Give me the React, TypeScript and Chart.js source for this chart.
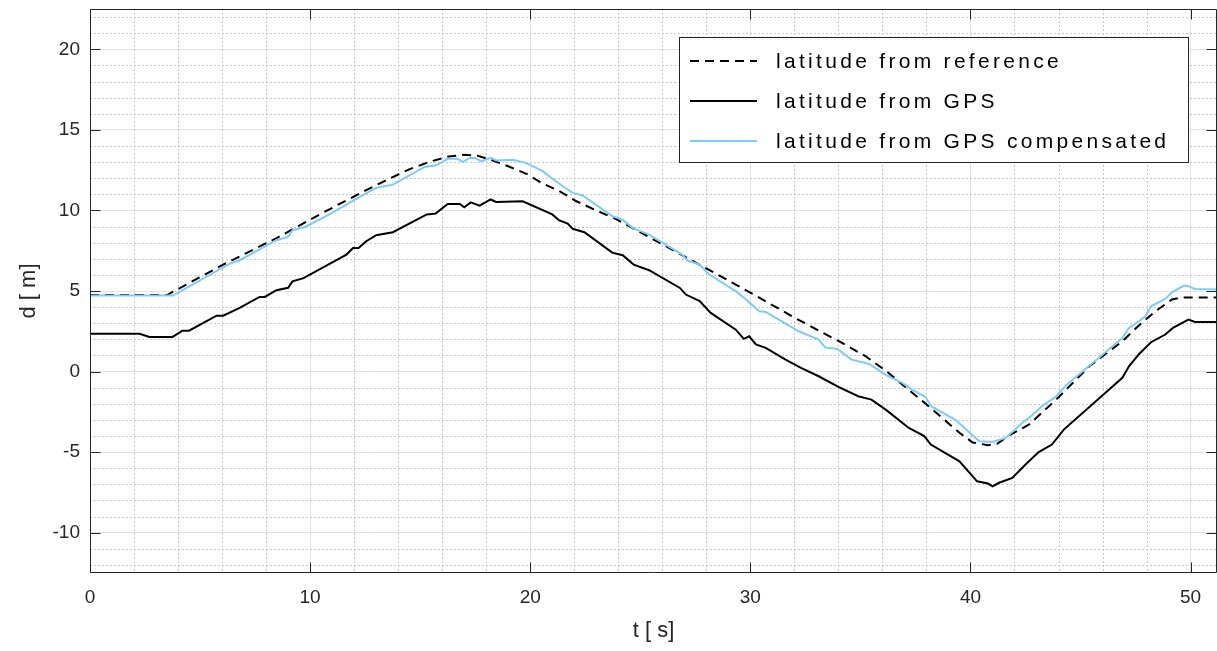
import React, { useEffect, useRef } from 'react';
import { Chart, registerables } from 'chart.js';

Chart.register(...registerables);

// ---- data ----
const refT = [0, 3.5, 6, 8.5, 10.5, 12.5, 13.5, 14.5, 15.5, 16.3, 17, 17.6, 18.2, 19, 19.9, 20.5, 21.36, 22.1, 23, 23.85, 24.65, 26, 28, 30, 32, 34, 35.24, 36.2, 36.9, 38.1, 39.5, 40.1, 40.8, 41.2, 41.7, 42.65, 44, 45.4, 46.9, 47.6, 48.4, 49.15, 49.6, 51.2];
const refD = [4.75, 4.75, 6.6, 8.3, 9.8, 11.23, 11.9, 12.55, 13.05, 13.35, 13.45, 13.4, 13.15, 12.74, 12.23, 11.71, 11.17, 10.57, 10.0, 9.5, 8.9, 7.9, 6.4, 4.9, 3.35, 1.9, 0.95, 0.0, -0.8, -2.15, -3.8, -4.4, -4.57, -4.5, -4.0, -3.3, -1.6, 0.33, 1.88, 2.8, 3.74, 4.47, 4.6, 4.6];

const gpsT = [0, 2.25, 2.7, 3.75, 4.2, 4.5, 5.75, 6.05, 6.8, 7.7, 7.94, 8.47, 9.0, 9.2, 9.7, 11.65, 11.95, 12.2, 12.55, 13.0, 13.76, 15.3, 15.7, 16.25, 16.8, 17.0, 17.3, 17.7, 18.2, 18.45, 19.66, 21.0, 21.3, 21.7, 21.93, 22.46, 23.74, 24.2, 24.7, 25.4, 26.8, 27.07, 27.7, 28.2, 29.34, 29.7, 29.95, 30.25, 30.7, 31.6, 32.3, 33.1, 34.0, 34.9, 35.5, 36.15, 37.2, 37.9, 38.2, 39.5, 40.3, 40.8, 41.0, 41.3, 41.9, 42.5, 43.1, 43.7, 44.24, 46.9, 47.2, 47.64, 48.2, 48.85, 49.2, 49.9, 50.2, 51.2];
const gpsD = [2.35, 2.35, 2.15, 2.15, 2.54, 2.54, 3.47, 3.47, 3.95, 4.63, 4.63, 5.05, 5.2, 5.6, 5.8, 7.26, 7.67, 7.67, 8.09, 8.46, 8.65, 9.75, 9.8, 10.4, 10.4, 10.2, 10.5, 10.3, 10.68, 10.53, 10.57, 9.75, 9.4, 9.19, 8.86, 8.65, 7.37, 7.22, 6.64, 6.29, 5.19, 4.78, 4.37, 3.64, 2.6, 2.03, 2.19, 1.68, 1.47, 0.74, 0.23, -0.29, -0.95, -1.53, -1.74, -2.36, -3.5, -4.0, -4.53, -5.57, -6.81, -6.95, -7.12, -6.9, -6.6, -5.77, -5.0, -4.53, -3.6, -0.39, 0.33, 1.06, 1.82, 2.3, 2.71, 3.23, 3.08, 3.08];

const compT = [0, 3.77, 6.35, 6.8, 8.47, 9.0, 9.2, 9.75, 11, 12.25, 13.0, 13.76, 15.2, 15.73, 16.26, 16.7, 16.94, 17.24, 17.47, 17.77, 18.22, 18.45, 19.2, 19.8, 20.57, 21.17, 21.48, 21.93, 22.38, 23.74, 24.2, 24.65, 25.4, 26.9, 27.15, 27.7, 28.13, 29.34, 29.8, 30.4, 30.7, 32.2, 33.1, 33.4, 33.95, 34.6, 35.4, 36.15, 36.9, 37.35, 37.96, 38.2, 39.3, 40.4, 41.0, 41.6, 42.35, 42.65, 43.25, 43.9, 44.3, 46.9, 47.2, 47.64, 47.95, 48.2, 48.85, 49.15, 49.7, 49.9, 50.2, 51.2];
const compD = [4.72, 4.72, 6.7, 6.91, 8.15, 8.36, 8.77, 8.96, 9.85, 10.84, 11.4, 11.6, 12.7, 12.8, 13.2, 13.2, 13.0, 13.26, 13.26, 13.06, 13.26, 13.1, 13.15, 12.95, 12.44, 11.8, 11.5, 11.09, 10.93, 9.64, 9.43, 8.92, 8.5, 7.26, 6.89, 6.64, 6.02, 4.99, 4.47, 3.74, 3.7, 2.5, 1.99, 1.5, 1.4, 0.74, 0.47, -0.2, -0.7, -1.12, -1.57, -2.15, -2.98, -4.33, -4.37, -4.12, -3.19, -2.88, -2.15, -1.53, -0.91, 2.09, 2.71, 3.12, 3.43, 4.05, 4.51, 4.92, 5.34, 5.3, 5.13, 5.1];

const xTicks = [0, 10, 20, 30, 40, 50];
const yTicks = [-10, -5, 0, 5, 10, 15, 20];
const X_MIN = 0;
const X_MAX = 51.2;
const Y_MIN = -12.5;
const Y_MAX = 22.5;
const X_MINOR_STEP = 2;
const Y_MINOR_STEP = 1;

const seriesNames = ['latitude from reference', 'latitude from GPS', 'latitude from GPS compensated'];
const seriesColors = ['#000000', '#000000', '#7dcbf8'];
const refDash = [9, 6];

const FONT = "'Liberation Sans', Arial, Helvetica, sans-serif";
const AXIS_COLOR = '#262626';

const matlabPlugin = {
  id: 'matlabStyle',
  beforeDatasetsDraw(chart: any) {
    const { ctx, chartArea: a, scales } = chart;
    const xs = scales.x;
    const ys = scales.y;
    ctx.save();
    ctx.strokeStyle = '#c8c8c8';
    ctx.lineWidth = 1;
    ctx.setLineDash([2, 2]);
    for (let v = X_MIN + X_MINOR_STEP; v < X_MAX; v += X_MINOR_STEP) {
      if (Math.abs(v % 10) < 1e-9) continue;
      const px = Math.round(xs.getPixelForValue(v)) + 0.5;
      ctx.beginPath();
      ctx.moveTo(px, a.top);
      ctx.lineTo(px, a.bottom);
      ctx.stroke();
    }
    for (let v = Math.ceil(Y_MIN); v < Y_MAX; v += Y_MINOR_STEP) {
      if (Math.abs(v % 5) < 1e-9) continue;
      const py = Math.round(ys.getPixelForValue(v)) + 0.5;
      ctx.beginPath();
      ctx.moveTo(a.left, py);
      ctx.lineTo(a.right, py);
      ctx.stroke();
    }
    ctx.restore();
  },
  afterDatasetsDraw(chart: any) {
    const { ctx, chartArea: a, scales } = chart;
    const xs = scales.x;
    const ys = scales.y;
    const L = Math.round(a.left) + 0.5;
    const R = Math.round(a.right) - 0.5;
    const T = Math.round(a.top) + 0.5;
    const B = Math.round(a.bottom) - 0.5;
    ctx.save();
    ctx.setLineDash([]);
    ctx.strokeStyle = AXIS_COLOR;
    ctx.lineWidth = 1;
    ctx.beginPath();
    ctx.rect(L, T, R - L, B - T);
    ctx.stroke();
    const tl = 10;
    ctx.beginPath();
    xTicks.forEach((v) => {
      const px = Math.round(xs.getPixelForValue(v)) + 0.5;
      ctx.moveTo(px, B);
      ctx.lineTo(px, B - tl);
      ctx.moveTo(px, T);
      ctx.lineTo(px, T + tl);
    });
    yTicks.forEach((v) => {
      const py = Math.round(ys.getPixelForValue(v)) + 0.5;
      ctx.moveTo(L, py);
      ctx.lineTo(L + tl, py);
      ctx.moveTo(R, py);
      ctx.lineTo(R - tl, py);
    });
    ctx.stroke();

    // legend
    const bx = 679.5, by = 37.5, bw = 509, bh = 125;
    ctx.fillStyle = '#ffffff';
    ctx.fillRect(bx, by, bw, bh);
    ctx.strokeStyle = AXIS_COLOR;
    ctx.strokeRect(bx, by, bw, bh);
    const rows = [61, 101, 141];
    chart.data.datasets.forEach((ds: any, i: number) => {
      const y = rows[i];
      ctx.save();
      ctx.strokeStyle = ds.borderColor;
      ctx.lineWidth = ds.borderWidth;
      ctx.setLineDash(ds.borderDash || []);
      ctx.beginPath();
      ctx.moveTo(690, y);
      ctx.lineTo(757, y);
      ctx.stroke();
      ctx.restore();
      ctx.save();
      ctx.fillStyle = '#000000';
      ctx.font = `21px ${FONT}`;
      ctx.textBaseline = 'middle';
      ctx.textAlign = 'left';
      try { (ctx as any).letterSpacing = '3.3px'; } catch (e) {}
      ctx.fillText(ds.label, 776, y + 1);
      ctx.restore();
    });
    ctx.restore();
  },
};

export default function App() {
  const canvasRef = useRef<HTMLCanvasElement>(null);

  useEffect(() => {
    document.body.style.margin = '0';
    const toPts = (t: number[], d: number[]) => t.map((v, i) => ({ x: v, y: d[i] }));
    const tickFont = { family: FONT, size: 19 };
    const titleFont = { family: FONT, size: 22 };
    const chart = new Chart(canvasRef.current as HTMLCanvasElement, {
      type: 'line',
      data: {
        datasets: [
          {
            label: seriesNames[0],
            data: toPts(refT, refD),
            borderColor: seriesColors[0],
            borderWidth: 2,
            borderDash: refDash,
            pointRadius: 0,
            tension: 0,
            fill: false,
            order: 2,
          },
          {
            label: seriesNames[1],
            data: toPts(gpsT, gpsD),
            borderColor: seriesColors[1],
            borderWidth: 2,
            pointRadius: 0,
            tension: 0,
            fill: false,
            order: 1,
          },
          {
            label: seriesNames[2],
            data: toPts(compT, compD),
            borderColor: seriesColors[2],
            borderWidth: 2,
            pointRadius: 0,
            tension: 0,
            fill: false,
            order: 0,
          },
        ],
      },
      options: {
        animation: false,
        responsive: false,
        events: [],
        layout: { padding: { top: 9, right: 0, left: 0, bottom: 0 } },
        plugins: { legend: { display: false }, tooltip: { enabled: false } },
        scales: {
          x: {
            type: 'linear',
            min: X_MIN,
            max: X_MAX,
            afterBuildTicks: (s: any) => {
              s.ticks = xTicks.map((v) => ({ value: v }));
            },
            afterFit: (s: any) => {
              s.height = 78;
              s.paddingLeft = 0;
              s.paddingRight = 0;
              s.paddingTop = 0;
              s.paddingBottom = 0;
            },
            grid: { color: '#e2e2e2', drawTicks: false, lineWidth: 1 },
            border: { display: false },
            ticks: {
              padding: 13,
              font: tickFont,
              color: AXIS_COLOR,
              maxRotation: 0,
              autoSkip: false,
              callback: (v: any) => String(v),
            },
            title: {
              display: true,
              text: 't [ s]',
              font: titleFont,
              color: AXIS_COLOR,
              padding: { top: 0, bottom: 7 },
            },
          },
          y: {
            type: 'linear',
            min: Y_MIN,
            max: Y_MAX,
            afterBuildTicks: (s: any) => {
              s.ticks = yTicks.map((v) => ({ value: v }));
            },
            afterFit: (s: any) => {
              s.width = 90;
              s.paddingLeft = 0;
              s.paddingRight = 0;
              s.paddingTop = 0;
              s.paddingBottom = 0;
            },
            grid: { color: '#e2e2e2', drawTicks: false, lineWidth: 1 },
            border: { display: false },
            ticks: {
              padding: 10,
              font: tickFont,
              color: AXIS_COLOR,
              autoSkip: false,
              callback: (v: any) => String(v),
            },
            title: {
              display: true,
              text: 'd [ m]',
              font: titleFont,
              color: AXIS_COLOR,
              padding: { top: 16, bottom: 0 },
            },
          },
        },
      },
      plugins: [matlabPlugin],
    } as any);
    return () => chart.destroy();
  }, []);

  return <canvas ref={canvasRef} width={1217} height={651} style={{ display: 'block' }} />;
}
